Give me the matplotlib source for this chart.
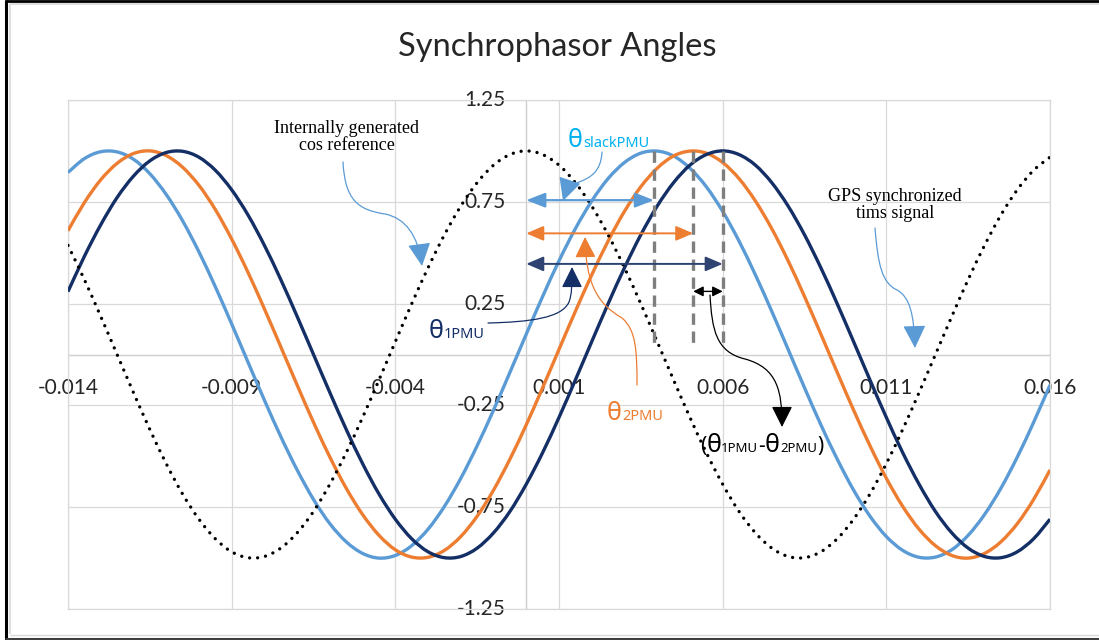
import matplotlib
matplotlib.use("Agg")
import matplotlib.pyplot as plt
from matplotlib.path import Path
from matplotlib.patches import FancyArrowPatch, PathPatch
from matplotlib.lines import Line2D
from matplotlib.transforms import offset_copy, IdentityTransform

# ---------------- data ----------------
time_s = [-0.014, -0.0135, -0.013, -0.0125, -0.012, -0.0115, -0.011, -0.0105,
          -0.010, -0.0095, -0.009, -0.0085, -0.008, -0.0075, -0.007, -0.0065,
          -0.006, -0.0055, -0.005, -0.0045, -0.004, -0.0035, -0.003, -0.0025,
          -0.002, -0.0015, -0.001, -0.0005, 0.0, 0.0005, 0.001, 0.0015, 0.002,
          0.0025, 0.003, 0.0035, 0.004, 0.0045, 0.005, 0.0055, 0.006, 0.0065,
          0.007, 0.0075, 0.008, 0.0085, 0.009, 0.0095, 0.010, 0.0105, 0.011,
          0.0115, 0.012, 0.0125, 0.013, 0.0135, 0.014, 0.0145, 0.015, 0.0155,
          0.016]

cos_reference = [0.536, 0.368, 0.187, 0.000, -0.187, -0.368, -0.536, -0.685,
                 -0.809, -0.905, -0.969, -0.998, -0.992, -0.951, -0.876, -0.771,
                 -0.637, -0.482, -0.309, -0.125, 0.063, 0.249, 0.426, 0.588,
                 0.729, 0.844, 0.930, 0.982, 1.000, 0.982, 0.930, 0.844,
                 0.729, 0.588, 0.426, 0.249, 0.063, -0.125, -0.309, -0.482,
                 -0.637, -0.771, -0.876, -0.951, -0.992, -0.998, -0.969, -0.905,
                 -0.809, -0.685, -0.536, -0.368, -0.187, 0.000, 0.187, 0.368,
                 0.536, 0.685, 0.809, 0.905, 0.969]

slack_pmu = [0.894, 0.962, 0.996, 0.995, 0.959, 0.888, 0.786, 0.657,
             0.504, 0.333, 0.150, -0.038, -0.224, -0.403, -0.567, -0.712,
             -0.831, -0.920, -0.977, -1.000, -0.987, -0.939, -0.858, -0.746,
             -0.608, -0.448, -0.273, -0.088, 0.100, 0.285, 0.460, 0.618,
             0.754, 0.864, 0.943, 0.989, 0.999, 0.975, 0.915, 0.824,
             0.703, 0.557, 0.391, 0.212, 0.025, -0.163, -0.345, -0.514,
             -0.666, -0.794, -0.894, -0.962, -0.996, -0.995, -0.959, -0.888,
             -0.786, -0.657, -0.504, -0.333, -0.150]

pmu2 = [0.608, 0.746, 0.858, 0.939, 0.987, 1.000, 0.977, 0.920,
        0.831, 0.712, 0.567, 0.403, 0.224, 0.038, -0.150, -0.333,
        -0.504, -0.657, -0.786, -0.888, -0.959, -0.995, -0.996, -0.962,
        -0.894, -0.794, -0.666, -0.514, -0.345, -0.163, 0.025, 0.212,
        0.391, 0.557, 0.703, 0.824, 0.915, 0.975, 0.999, 0.989,
        0.943, 0.864, 0.754, 0.618, 0.460, 0.285, 0.100, -0.088,
        -0.273, -0.448, -0.608, -0.746, -0.858, -0.939, -0.987, -1.000,
        -0.977, -0.920, -0.831, -0.712, -0.567]

pmu1 = [0.309, 0.482, 0.637, 0.771, 0.876, 0.951, 0.992, 0.998,
        0.969, 0.905, 0.809, 0.685, 0.536, 0.368, 0.187, 0.000,
        -0.187, -0.368, -0.536, -0.685, -0.809, -0.905, -0.969, -0.998,
        -0.992, -0.951, -0.876, -0.771, -0.637, -0.482, -0.309, -0.125,
        0.063, 0.249, 0.426, 0.588, 0.729, 0.844, 0.930, 0.982,
        1.000, 0.982, 0.930, 0.844, 0.729, 0.588, 0.426, 0.249,
        0.063, -0.125, -0.309, -0.482, -0.637, -0.771, -0.876, -0.951,
        -0.992, -0.998, -0.969, -0.905, -0.809]

# peak times of each phasor (where the dashed markers sit)
peak_slack = 0.0039
peak_pmu2 = 0.0051
peak_pmu1 = 0.006

x_ticks = [-0.014, -0.009, -0.004, 0.001, 0.006, 0.011, 0.016]
x_tick_labels = ["-0.014", "-0.009", "-0.004", "0.001", "0.006", "0.011", "0.016"]
y_ticks = [1.25, 0.75, 0.25, -0.25, -0.75, -1.25]
y_tick_labels = ["1.25", "0.75", "0.25", "-0.25", "-0.75", "-1.25"]

title = "Synchrophasor Angles"

# ---------------- style ----------------
W, H = 1099, 640
C_LB = "#5B9BD5"
C_OR = "#ED7D31"
C_NV = "#142F66"
C_CYAN = "#00B0F0"
GRID = "#d9d9d9"
SANS = ["Lato", "Noto Sans", "DejaVu Sans"]
GREEK = ["Noto Sans", "DejaVu Sans"]
SERIF = ["Liberation Serif", "DejaVu Serif"]

fig = plt.figure(figsize=(W / 100, H / 100), dpi=100)
fig.patch.set_facecolor("white")

ax = fig.add_axes([68 / W, 1 - 609 / H, 982 / W, 509 / H])
ax.set_xlim(-0.014, 0.016)
ax.set_ylim(-1.25, 1.25)
ax.set_autoscale_on(False)
for s in ax.spines.values():
    s.set_color(GRID)
    s.set_linewidth(0.9)
ax.set_xticks(x_ticks)
ax.set_yticks(y_ticks)
ax.tick_params(length=0, labelbottom=False, labelleft=False)
ax.grid(True, color=GRID, linewidth=0.9, zorder=0)
ax.set_axisbelow(True)
ax.axhline(0, color="#cfcfcf", linewidth=1.0, zorder=0.5)
ax.axvline(0, color="#cfcfcf", linewidth=1.0, zorder=0.5)

# tick labels at the axes crossing (Excel style)
xoff = offset_copy(ax.transData, fig=fig, x=0, y=-33, units="dots")
for xv, lab in zip(x_ticks, x_tick_labels):
    ax.text(xv, 0, lab, transform=xoff, ha="center", va="center",
            fontsize=15, color="#262626", family=SANS, clip_on=False, zorder=1)
yoff = offset_copy(ax.transData, fig=fig, x=-21, y=0, units="dots")
for yv, lab in zip(y_ticks, y_tick_labels):
    ax.text(0, yv, lab, transform=yoff, ha="right", va="center",
            fontsize=15, color="#262626", family=SANS, clip_on=False, zorder=1)


# Excel-like "smoothed line": cubic Bezier segments through the data points
def smooth_line(xs, ys, **kw):
    pts = list(zip(xs, ys))
    n = len(pts)
    verts = [pts[0]]
    codes = [Path.MOVETO]
    for i in range(n - 1):
        p0 = pts[i - 1] if i > 0 else pts[i]
        p1 = pts[i]
        p2 = pts[i + 1]
        p3 = pts[i + 2] if i + 2 < n else pts[i + 1]
        c1 = (p1[0] + (p2[0] - p0[0]) / 6.0, p1[1] + (p2[1] - p0[1]) / 6.0)
        c2 = (p2[0] - (p3[0] - p1[0]) / 6.0, p2[1] - (p3[1] - p1[1]) / 6.0)
        verts += [c1, c2, p2]
        codes += [Path.CURVE4] * 3
    patch = PathPatch(Path(verts, codes), fill=False, **kw)
    ax.add_patch(patch)
    return patch


smooth_line(time_s, slack_pmu, edgecolor=C_LB, lw=2.4, zorder=3, capstyle="butt")
smooth_line(time_s, pmu2, edgecolor=C_OR, lw=2.4, zorder=3.1, capstyle="butt")
smooth_line(time_s, pmu1, edgecolor=C_NV, lw=2.4, zorder=3.2, capstyle="butt")
smooth_line(time_s, cos_reference, edgecolor="black", lw=2.4, zorder=3.3,
            linestyle=(0, (0.01, 2.4)), capstyle="round")

# dashed peak markers
for p in (peak_slack, peak_pmu2, peak_pmu1):
    ax.plot([p, p], [1.0, 0.03], color="#7f7f7f", lw=2.4,
            linestyle=(0, (3.4, 2.0)), zorder=4)


# horizontal double arrows (angles measured from t = 0)
def harrow(x0, x1, y, color, lw, ms, hl, hw, z=5):
    ax.annotate("", xy=(x1, y), xytext=(x0, y),
                arrowprops=dict(arrowstyle="<|-|>,head_length=%g,head_width=%g" % (hl, hw),
                                color=color, lw=lw, shrinkA=0, shrinkB=0,
                                mutation_scale=ms), zorder=z)


harrow(0, peak_slack, 0.758, C_LB, 1.6, 10, 1.15, 0.45)
harrow(0, peak_pmu2, 0.595, C_OR, 1.4, 10, 1.05, 0.45)
harrow(0, peak_pmu1, 0.445, "#2E4372", 1.4, 10, 1.05, 0.45)
harrow(peak_pmu2, peak_pmu1, 0.31, "black", 1.0, 10, 0.6, 0.3)


# ---------------- annotations in figure pixel space ----------------
def P(x, y):
    return (x, H - y)


def callout(pts, color, lw=0.9, hl=1.1, hw=0.55, ms=13):
    verts = [P(*pts[0])]
    codes = [Path.MOVETO]
    for i in range(1, len(pts), 3):
        verts += [P(*pts[i]), P(*pts[i + 1]), P(*pts[i + 2])]
        codes += [Path.CURVE4] * 3
    arr = FancyArrowPatch(path=Path(verts, codes),
                          arrowstyle="-|>,head_length=%g,head_width=%g" % (hl, hw),
                          mutation_scale=ms, color=color, lw=lw,
                          transform=IdentityTransform(), zorder=6)
    fig.add_artist(arr)


# Internally generated cos reference
callout([(343, 162), (345, 200), (358, 210), (385, 214),
         (405, 218), (418, 235), (422, 266)], C_LB)
# theta slack
callout([(602, 152), (601, 172), (590, 178), (579, 182),
         (570, 186), (566, 192), (563, 201)], C_LB)
# theta 1
callout([(488, 323), (530, 322), (562, 318), (569, 302),
         (572, 294), (572, 285), (572, 267)], C_NV, hl=1.0, hw=0.5)
# theta 2
callout([(637, 385), (637, 350), (636, 330), (622, 318),
         (598, 304), (586, 285), (585, 237)], C_OR, hl=1.0, hw=0.5)
# theta1 - theta2
callout([(710, 295), (712, 330), (716, 352), (745, 359),
         (778, 368), (782, 392), (782, 427)], "black", hl=1.0, hw=0.5)
# GPS synchronized
callout([(875, 228), (878, 265), (882, 283), (897, 290),
         (910, 297), (914, 315), (915, 348)], C_LB)

renderer = fig.canvas.get_renderer()


def rich(x_px, base_px, parts, color):
    x = x_px
    for s, size in parts:
        t = fig.text(x / W, 1 - base_px / H, s, fontsize=size, color=color,
                     family=GREEK, ha="left", va="baseline", zorder=7)
        bb = t.get_window_extent(renderer=renderer)
        x = bb.x1


rich(568, 147, [("θ", 18), ("slackPMU", 10.5)], C_CYAN)
rich(429, 338, [("θ", 18), ("1PMU", 10.5)], C_NV)
rich(607, 420, [("θ", 18), ("2PMU", 10.5)], C_OR)
rich(700, 452, [("(", 15), ("θ", 18), ("1PMU", 9.5), ("-", 15), ("θ", 18),
                ("2PMU", 9.5), (")", 15)], "black")

fig.text(347 / W, 1 - 137 / H, "Internally generated\ncos reference", ha="center",
         va="center", multialignment="center", fontsize=13, family=SERIF,
         color="black", linespacing=1.05)
fig.text(895 / W, 1 - 205 / H, "GPS synchronized\ntims signal", ha="center",
         va="center", multialignment="center", fontsize=13, family=SERIF,
         color="black", linespacing=1.05)

fig.text(557 / W, 1 - 56 / H, title, ha="center", va="baseline",
         fontsize=23.5, family=SANS, color="#262626")


# chart frame
def fline(x0, y0, x1, y1, color, lw):
    fig.add_artist(Line2D([x0, x1], [H - y0, H - y1], color=color, lw=lw,
                          transform=IdentityTransform(), solid_capstyle="butt"))


fline(9.5, 4, 1099, 4, GRID, 1.2)
fline(9.5, 4, 9.5, 634, GRID, 1.2)
fline(9.5, 634.5, 1099, 634.5, GRID, 1.0)
fline(5, 1, 1099, 1, "black", 2.0)
fline(6, 0, 6, 640, "black", 2.2)
fline(5, 638.5, 1099, 638.5, "#404040", 2.2)

fig.savefig("out.png", dpi=100)
